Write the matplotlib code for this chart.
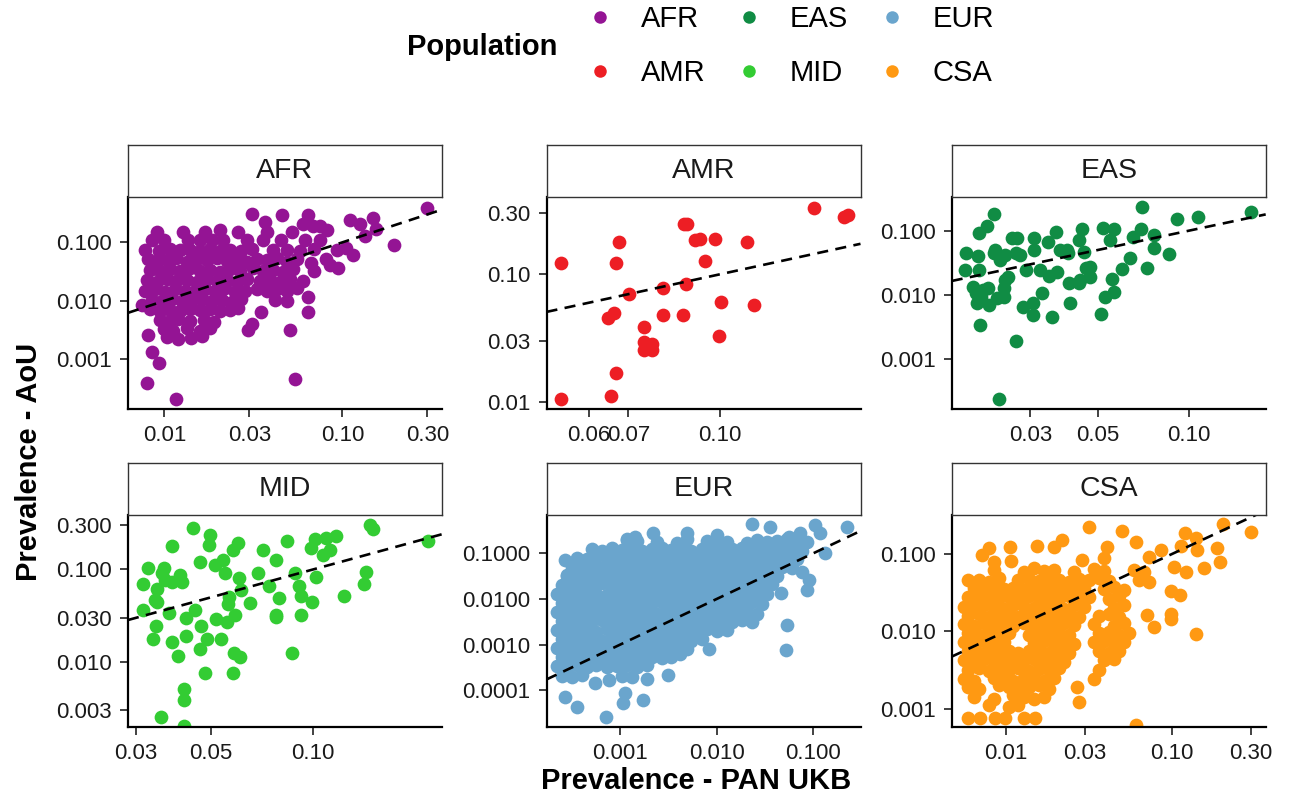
import numpy as np
import matplotlib
matplotlib.use("Agg")
import matplotlib.pyplot as plt
from matplotlib.lines import Line2D
from matplotlib.ticker import NullLocator

plt.rcParams['font.family'] = ['Liberation Sans', 'DejaVu Sans']

# prevalence in PAN UKB (x) vs AoU (y), one list of (x, y) per population
afr_points = [
    (0.298, 0.38), (0.194, 0.090), (0.149, 0.257), (0.110, 0.241), (0.125, 0.21), (0.134, 0.13),
    (0.155, 0.17), (0.115, 0.061), (0.095, 0.036), (0.085, 0.041), (0.105, 0.079), (0.064, 0.29),
    (0.060, 0.21), (0.068, 0.19), (0.075, 0.19), (0.082, 0.16), (0.046, 0.29), (0.031, 0.31),
    (0.037, 0.225), (0.054, 0.00047), (0.0117, 0.00021), (0.0080, 0.00040), (0.0093, 0.00086),
    (0.0085, 0.00135), (0.0081, 0.0026), (0.051, 0.0032), (0.0297, 0.0032), (0.031, 0.0041),
    (0.035, 0.0065), (0.064, 0.0118), (0.064, 0.0065),
    (0.0091, 0.15), (0.0128, 0.15), (0.017, 0.15), (0.0205, 0.16), (0.026, 0.15), (0.0375, 0.15), (0.052, 0.15),
    (0.0085, 0.11), (0.0099, 0.11), (0.0136, 0.11), (0.0159, 0.11), (0.0185, 0.11), (0.0214, 0.11),
    (0.029, 0.11), (0.036, 0.11), (0.045, 0.11), (0.062, 0.11), (0.075, 0.11),
    (0.0078, 0.074), (0.0093, 0.071), (0.0108, 0.077), (0.0122, 0.073), (0.0139, 0.075), (0.0159, 0.070),
    (0.0181, 0.076), (0.0205, 0.072), (0.0234, 0.074), (0.027, 0.071), (0.031, 0.077), (0.041, 0.073),
    (0.049, 0.075), (0.058, 0.070), (0.069, 0.076), (0.093, 0.074),
    (0.0081, 0.052), (0.0091, 0.048), (0.0103, 0.050), (0.0117, 0.053), (0.0134, 0.047), (0.0152, 0.051),
    (0.0173, 0.049), (0.0197, 0.054), (0.0224, 0.048), (0.0255, 0.050), (0.029, 0.046), (0.033, 0.052),
    (0.0375, 0.049), (0.0428, 0.055), (0.049, 0.047), (0.0554, 0.051), (0.067, 0.045), (0.081, 0.052),
    (0.0083, 0.034), (0.0095, 0.032), (0.0108, 0.035), (0.0122, 0.033), (0.0139, 0.036), (0.0159, 0.032),
    (0.0181, 0.034), (0.0205, 0.031), (0.0234, 0.035), (0.0266, 0.033), (0.0316, 0.036), (0.036, 0.032),
    (0.041, 0.034), (0.0466, 0.031), (0.053, 0.035), (0.069, 0.033),
    (0.0080, 0.023), (0.0091, 0.021), (0.0103, 0.024), (0.0117, 0.022), (0.0134, 0.023), (0.0152, 0.021),
    (0.0173, 0.024), (0.0197, 0.022), (0.0224, 0.023), (0.0255, 0.021), (0.029, 0.024), (0.0345, 0.022),
    (0.0392, 0.023), (0.0447, 0.021), (0.0508, 0.024), (0.060, 0.022),
    (0.0078, 0.015), (0.0089, 0.016), (0.0101, 0.014), (0.0115, 0.016), (0.0131, 0.015), (0.0149, 0.0145),
    (0.0169, 0.016), (0.0193, 0.015), (0.0219, 0.0165), (0.0249, 0.014), (0.0284, 0.015), (0.033, 0.016),
    (0.0375, 0.0145), (0.0428, 0.016), (0.049, 0.015), (0.0554, 0.0165),
    (0.0075, 0.0085), (0.0085, 0.0105), (0.0097, 0.0098), (0.011, 0.0108), (0.0125, 0.0101), (0.0142, 0.0096),
    (0.0162, 0.0107), (0.0185, 0.0099), (0.021, 0.0104), (0.024, 0.0097), (0.027, 0.0106), (0.042, 0.0102),
    (0.049, 0.0098),
    (0.0083, 0.0072), (0.0095, 0.0068), (0.0108, 0.0071), (0.0122, 0.0067), (0.0139, 0.0073), (0.0159, 0.0069),
    (0.0181, 0.0072), (0.0205, 0.0066), (0.0234, 0.0071), (0.026, 0.0075),
    (0.0095, 0.0048), (0.0108, 0.0045), (0.012, 0.0049), (0.0139, 0.0046), (0.0166, 0.0048), (0.0189, 0.0044),
    (0.0099, 0.0033), (0.0112, 0.0031), (0.0134, 0.0034), (0.0159, 0.0031), (0.0181, 0.0035),
    (0.0103, 0.0024), (0.012, 0.0022), (0.0142, 0.0023), (0.0162, 0.0025),
]

amr_points = [
    (0.0538, 0.122), (0.0538, 0.0105), (0.0653, 0.0111), (0.0666, 0.0170), (0.0675, 0.178),
    (0.0666, 0.122), (0.0645, 0.0452), (0.0662, 0.0495), (0.0702, 0.0702), (0.0744, 0.0389),
    (0.0744, 0.0297), (0.0769, 0.0255), (0.0769, 0.0284), (0.0744, 0.0255), (0.0802, 0.048),
    (0.0802, 0.0777), (0.0866, 0.048), (0.0876, 0.0835), (0.087, 0.246), (0.0881, 0.246),
    (0.0908, 0.186), (0.0928, 0.19), (0.0943, 0.127), (0.0984, 0.19), (0.0997, 0.0331),
    (0.1004, 0.0604), (0.1114, 0.180), (0.1146, 0.0575), (0.1446, 0.329), (0.1626, 0.283),
    (0.165, 0.29),
]

eas_points = [
    (0.0227, 0.182), (0.0216, 0.118), (0.0204, 0.093), (0.0184, 0.0444), (0.0183, 0.0245),
    (0.0202, 0.0404), (0.0204, 0.0245), (0.0205, 0.0034), (0.0237, 0.00024), (0.0270, 0.0019),
    (0.0194, 0.0135), (0.0199, 0.0106), (0.0200, 0.0074), (0.0218, 0.0127), (0.0220, 0.0070),
    (0.0233, 0.0089), (0.0245, 0.0127), (0.0248, 0.0171), (0.0254, 0.0193), (0.0227, 0.0444),
    (0.0230, 0.050), (0.0248, 0.0419), (0.0261, 0.076), (0.0271, 0.076), (0.0270, 0.0444),
    (0.0278, 0.0419), (0.0291, 0.0245), (0.0309, 0.076), (0.0309, 0.050), (0.0322, 0.0245),
    (0.0342, 0.0675), (0.0365, 0.0965), (0.0347, 0.0197), (0.0367, 0.0231), (0.0375, 0.050),
    (0.0396, 0.050), (0.0398, 0.0444), (0.0401, 0.0156), (0.0433, 0.0152), (0.0406, 0.0074),
    (0.0307, 0.0049), (0.0306, 0.0074), (0.0328, 0.0106), (0.0354, 0.0046), (0.0283, 0.0066),
    (0.0433, 0.0716), (0.0444, 0.105), (0.0450, 0.0471), (0.0459, 0.026), (0.0473, 0.0276),
    (0.0473, 0.0193), (0.0438, 0.0171), (0.0520, 0.109), (0.0551, 0.0716), (0.0568, 0.105),
    (0.0558, 0.0180), (0.0565, 0.0110), (0.0530, 0.0094), (0.0513, 0.0051), (0.0602, 0.0251),
    (0.0642, 0.0372), (0.0655, 0.0807), (0.0693, 0.105), (0.0701, 0.231), (0.0725, 0.026),
    (0.0766, 0.0857), (0.0766, 0.0531), (0.0861, 0.0435), (0.0915, 0.150), (0.1073, 0.161),
    (0.1607, 0.197), (0.0245, 0.0094), (0.0210, 0.0119), (0.0207, 0.0094), (0.0239, 0.035),
]

mid_points = [
    (0.0441, 0.278), (0.0496, 0.235), (0.0494, 0.183), (0.0382, 0.179), (0.0326, 0.1025),
    (0.0315, 0.0694), (0.0345, 0.0622), (0.0341, 0.0465), (0.0345, 0.0447), (0.0357, 0.092),
    (0.0363, 0.1025), (0.0365, 0.0767), (0.0382, 0.0735), (0.0404, 0.0868), (0.0409, 0.0735),
    (0.0314, 0.0363), (0.0376, 0.0334), (0.0343, 0.0243), (0.0336, 0.0179), (0.0382, 0.0165),
    (0.0400, 0.0115), (0.0421, 0.0190), (0.0421, 0.0302), (0.0448, 0.0363), (0.0463, 0.121),
    (0.0465, 0.0243), (0.0463, 0.0137), (0.0485, 0.0179), (0.0479, 0.0076), (0.0516, 0.0294),
    (0.0513, 0.111), (0.0540, 0.126), (0.0548, 0.092), (0.0565, 0.0506), (0.0561, 0.0428),
    (0.0557, 0.0271), (0.0587, 0.0320), (0.0581, 0.162), (0.0601, 0.191), (0.0605, 0.0799),
    (0.0614, 0.0597), (0.0583, 0.0125), (0.0608, 0.0113), (0.0581, 0.0076), (0.0533, 0.0179),
    (0.0650, 0.0436), (0.0688, 0.092), (0.0712, 0.162), (0.0742, 0.066), (0.0776, 0.128),
    (0.0794, 0.0497), (0.0779, 0.032), (0.0776, 0.0307), (0.0838, 0.204), (0.0883, 0.092),
    (0.0907, 0.066), (0.0918, 0.0514), (0.0918, 0.032), (0.0869, 0.0125), (0.0995, 0.0447),
    (0.0989, 0.169), (0.1011, 0.211), (0.1023, 0.0819), (0.1070, 0.143), (0.1095, 0.217),
    (0.1172, 0.229), (0.112, 0.162), (0.1234, 0.0514), (0.1411, 0.0694), (0.1437, 0.0944),
    (0.147, 0.302), (0.150, 0.271), (0.218, 0.204), (0.0415, 0.0051), (0.0415, 0.00385),
    (0.0355, 0.00254), (0.0415, 0.00201),
]

eur_points = [
    (0.00117, 0.20), (0.0015, 0.19), (0.0024, 0.18), (0.0039, 0.17), (0.0049, 0.21), (0.0079, 0.19),
    (0.0101, 0.17), (0.0128, 0.18), (0.0206, 0.17), (0.0262, 0.20), (0.0333, 0.18), (0.0423, 0.19),
    (0.0537, 0.21), (0.0682, 0.17), (0.0867, 0.18),
    (0.00051, 0.125), (0.00065, 0.115), (0.00082, 0.13), (0.00104, 0.12), (0.00132, 0.13),
    (0.00168, 0.115), (0.00213, 0.125), (0.0027, 0.13), (0.0034, 0.12), (0.0044, 0.13), (0.0055, 0.115),
    (0.0070, 0.125), (0.0090, 0.13), (0.0114, 0.12), (0.0144, 0.125), (0.0184, 0.13), (0.0233, 0.115),
    (0.0296, 0.125), (0.0376, 0.13), (0.0477, 0.12), (0.0606, 0.125), (0.077, 0.115),
    (0.000355, 0.08), (0.00045, 0.075), (0.00057, 0.083), (0.00073, 0.078), (0.00092, 0.08),
    (0.00117, 0.076), (0.0015, 0.082), (0.0019, 0.079), (0.0024, 0.077), (0.0030, 0.083), (0.0039, 0.078),
    (0.0049, 0.08), (0.0062, 0.076), (0.0079, 0.082), (0.0101, 0.079), (0.0128, 0.077), (0.0163, 0.083),
    (0.0206, 0.078), (0.0262, 0.08), (0.0333, 0.076), (0.0423, 0.082), (0.0537, 0.079), (0.0682, 0.075),
    (0.00032, 0.05), (0.00040, 0.048), (0.00051, 0.052), (0.00065, 0.049), (0.00082, 0.051),
    (0.00104, 0.047), (0.00132, 0.05), (0.00168, 0.053), (0.00213, 0.049), (0.0027, 0.05), (0.0034, 0.048),
    (0.0044, 0.052), (0.0055, 0.05), (0.0070, 0.047), (0.0090, 0.051), (0.0114, 0.05), (0.0144, 0.053),
    (0.0184, 0.048), (0.0233, 0.05), (0.0296, 0.052), (0.0376, 0.049), (0.0477, 0.05), (0.0606, 0.047),
    (0.00028, 0.032), (0.000355, 0.030), (0.00045, 0.033), (0.00057, 0.031), (0.00073, 0.034),
    (0.00092, 0.032), (0.00117, 0.030), (0.0015, 0.033), (0.0019, 0.032), (0.0024, 0.031), (0.0030, 0.034),
    (0.0039, 0.032), (0.0049, 0.030), (0.0062, 0.033), (0.0079, 0.031), (0.0101, 0.032), (0.0128, 0.034),
    (0.0163, 0.030), (0.0206, 0.032), (0.0262, 0.033), (0.0333, 0.031), (0.0423, 0.032),
    (0.00025, 0.020), (0.00032, 0.021), (0.00040, 0.019), (0.00051, 0.020), (0.00065, 0.022),
    (0.00082, 0.019), (0.00104, 0.020), (0.00132, 0.021), (0.00168, 0.019), (0.00213, 0.020),
    (0.0027, 0.022), (0.0034, 0.020), (0.0044, 0.019), (0.0055, 0.021), (0.0070, 0.020), (0.0090, 0.019),
    (0.0114, 0.021), (0.0144, 0.020), (0.0184, 0.022), (0.0233, 0.019), (0.0296, 0.020), (0.0376, 0.021),
    (0.00022, 0.013), (0.00028, 0.012), (0.000355, 0.0135), (0.00045, 0.0125), (0.00057, 0.013),
    (0.00073, 0.0122), (0.00092, 0.0133), (0.00117, 0.0127), (0.0015, 0.013), (0.0019, 0.0124),
    (0.0024, 0.0134), (0.0030, 0.0128), (0.0039, 0.0122), (0.0049, 0.013), (0.0062, 0.0135),
    (0.0079, 0.0126), (0.0101, 0.013), (0.0128, 0.0122), (0.0163, 0.0132), (0.0206, 0.0128),
    (0.0262, 0.0124), (0.0333, 0.013),
    (0.00025, 0.0081), (0.00032, 0.0077), (0.00040, 0.0085), (0.00051, 0.0080), (0.00065, 0.0078),
    (0.00082, 0.0084), (0.00104, 0.0081), (0.00132, 0.0077), (0.00168, 0.0083), (0.00213, 0.0080),
    (0.0027, 0.0086), (0.0034, 0.0079), (0.0044, 0.0081), (0.0055, 0.0076), (0.0070, 0.0084),
    (0.0090, 0.0080), (0.0114, 0.0082), (0.0144, 0.0078), (0.0184, 0.0081), (0.0233, 0.0085),
    (0.0296, 0.0079),
    (0.00022, 0.0052), (0.00028, 0.0049), (0.000355, 0.0054), (0.00045, 0.0051), (0.00057, 0.0053),
    (0.00073, 0.0049), (0.00092, 0.0052), (0.00117, 0.0055), (0.0015, 0.0050), (0.0019, 0.0052),
    (0.0024, 0.0048), (0.0030, 0.0053), (0.0039, 0.0051), (0.0049, 0.0054), (0.0062, 0.0050),
    (0.0079, 0.0052), (0.0101, 0.0049), (0.0128, 0.0053), (0.0163, 0.0051), (0.0206, 0.0052),
    (0.0262, 0.0048),
    (0.00025, 0.0033), (0.00032, 0.0035), (0.00040, 0.0031), (0.00051, 0.0033), (0.00065, 0.0034),
    (0.00082, 0.0032), (0.00104, 0.0033), (0.00132, 0.0031), (0.00168, 0.0035), (0.00213, 0.0033),
    (0.0027, 0.0032), (0.0034, 0.0034), (0.0044, 0.0031), (0.0055, 0.0033), (0.0070, 0.0035),
    (0.0090, 0.0032), (0.0114, 0.0033), (0.0144, 0.0031), (0.0184, 0.0034), (0.0233, 0.0032),
    (0.00022, 0.0021), (0.00028, 0.0020), (0.000355, 0.0022), (0.00045, 0.0021), (0.00057, 0.0019),
    (0.00073, 0.0022), (0.00092, 0.0021), (0.00117, 0.0020), (0.0015, 0.0022), (0.0019, 0.0021),
    (0.0024, 0.0019), (0.0030, 0.0021), (0.0039, 0.0022), (0.0049, 0.0020), (0.0062, 0.0021),
    (0.0079, 0.0022), (0.0101, 0.0020), (0.0128, 0.0021),
    (0.00025, 0.0013), (0.00032, 0.00125), (0.00040, 0.0014), (0.00051, 0.0013), (0.00065, 0.0012),
    (0.00082, 0.0014), (0.00104, 0.0013), (0.00132, 0.00125), (0.00168, 0.0014), (0.00213, 0.0013),
    (0.0027, 0.0012), (0.0034, 0.0013), (0.0044, 0.0014), (0.0055, 0.0012), (0.0070, 0.0013),
    (0.00022, 0.00084), (0.00028, 0.0008), (0.000355, 0.00088), (0.00045, 0.00083), (0.00057, 0.0008),
    (0.00073, 0.00086), (0.00092, 0.00082), (0.00117, 0.00085), (0.0015, 0.0008), (0.0019, 0.00084),
    (0.0024, 0.00088), (0.0030, 0.00081), (0.0039, 0.00084), (0.0049, 0.0008),
    (0.00025, 0.00053), (0.00032, 0.0005), (0.00040, 0.00056), (0.00051, 0.00052), (0.00065, 0.00055),
    (0.00082, 0.0005), (0.00104, 0.00053), (0.00132, 0.00056), (0.00168, 0.00051), (0.00213, 0.00054),
    (0.0027, 0.0005), (0.0034, 0.00053),
    (0.00022, 0.00034), (0.00028, 0.00032), (0.000355, 0.00036), (0.00045, 0.00033), (0.00057, 0.00035),
    (0.00073, 0.00032), (0.00092, 0.00034), (0.00117, 0.00036), (0.0015, 0.00033), (0.0019, 0.00035),
    (0.00025, 0.00021), (0.00032, 0.0002), (0.00040, 0.00022), (0.00104, 0.00021), (0.00132, 0.0002),
    (0.000268, 0.0000714), (0.000355, 0.0000432), (0.000716, 0.000026), (0.00113, 0.0000875),
    (0.00107, 0.000052), (0.00172, 0.0000604), (0.00055, 0.000145), (0.00076, 0.000166),
    (0.00189, 0.000181), (0.00317, 0.000214), (0.0042, 0.00064), (0.0083, 0.00082), (0.0537, 0.00267),
    (0.0518, 0.00076), (0.0867, 0.0157), (0.090, 0.026), (0.077, 0.0397), (0.134, 0.1), (0.225, 0.385),
    (0.105, 0.42), (0.119, 0.275), (0.036, 0.385), (0.0233, 0.44), (0.0049, 0.275), (0.00221, 0.275),
    (0.00117, 0.21), (0.00143, 0.23), (0.0101, 0.25), (0.00027, 0.071), (0.00028, 0.0336),
    (0.074, 0.275), (0.056, 0.23), (0.047, 0.0135),
]

csa_points = [
    (0.00842, 0.062), (0.0128, 0.058), (0.0147, 0.066), (0.0169, 0.060), (0.0194, 0.063), (0.0257, 0.059),
    (0.0339, 0.064), (0.0390, 0.060), (0.0592, 0.062), (0.0680, 0.058),
    (0.00684, 0.047), (0.00786, 0.044), (0.00903, 0.049), (0.0119, 0.046), (0.0137, 0.048), (0.0158, 0.045),
    (0.0181, 0.049), (0.0208, 0.047), (0.0239, 0.044), (0.0275, 0.048), (0.0316, 0.046), (0.0364, 0.049),
    (0.0418, 0.045), (0.0634, 0.047), (0.0729, 0.044),
    (0.00638, 0.036), (0.00733, 0.034), (0.00842, 0.038), (0.00968, 0.035), (0.0111, 0.037), (0.0128, 0.034),
    (0.0147, 0.036), (0.0169, 0.038), (0.0194, 0.035), (0.0223, 0.036), (0.0257, 0.034), (0.0295, 0.037),
    (0.0390, 0.035), (0.0448, 0.038), (0.0515, 0.034),
    (0.00594, 0.028), (0.00684, 0.026), (0.00786, 0.029), (0.00903, 0.027), (0.0104, 0.028), (0.0119, 0.026),
    (0.0137, 0.029), (0.0158, 0.027), (0.0181, 0.028), (0.0208, 0.026), (0.0239, 0.029), (0.0275, 0.027),
    (0.0316, 0.028), (0.0418, 0.026), (0.0480, 0.029),
    (0.00555, 0.021), (0.00638, 0.020), (0.00733, 0.022), (0.00842, 0.021), (0.00968, 0.0195), (0.0111, 0.022),
    (0.0128, 0.021), (0.0147, 0.020), (0.0169, 0.022), (0.0194, 0.021), (0.0223, 0.0195), (0.0257, 0.022),
    (0.0295, 0.021), (0.0448, 0.020), (0.0515, 0.022),
    (0.00594, 0.016), (0.00684, 0.017), (0.00786, 0.0155), (0.00903, 0.016), (0.0104, 0.017), (0.0119, 0.0155),
    (0.0137, 0.016), (0.0158, 0.017), (0.0181, 0.0155), (0.0208, 0.016), (0.0239, 0.017), (0.0275, 0.0155),
    (0.0364, 0.016), (0.0418, 0.017), (0.0480, 0.0155),
    (0.00555, 0.0123), (0.00638, 0.0117), (0.00733, 0.013), (0.00842, 0.012), (0.00968, 0.0125),
    (0.0111, 0.0118), (0.0128, 0.013), (0.0147, 0.0122), (0.0169, 0.0126), (0.0194, 0.0118), (0.0223, 0.013),
    (0.0257, 0.0122), (0.0339, 0.0125), (0.0448, 0.0119), (0.0515, 0.0128),
    (0.00594, 0.0094), (0.00684, 0.0089), (0.00786, 0.0098), (0.00903, 0.0092), (0.0104, 0.0096),
    (0.0137, 0.0091), (0.0158, 0.0097), (0.0181, 0.0093), (0.0208, 0.0095), (0.0239, 0.009), (0.0364, 0.0094),
    (0.0418, 0.0098), (0.0480, 0.0091), (0.0552, 0.0095),
    (0.00555, 0.0072), (0.00638, 0.0069), (0.00733, 0.0075), (0.00842, 0.0071), (0.00968, 0.0073),
    (0.0147, 0.007), (0.0169, 0.0074), (0.0194, 0.0071), (0.0223, 0.0073), (0.0257, 0.0069), (0.0339, 0.0072),
    (0.0390, 0.0075), (0.0448, 0.007), (0.0515, 0.0073),
    (0.00594, 0.0055), (0.00684, 0.0052), (0.00786, 0.0057), (0.00903, 0.0054), (0.0104, 0.0056),
    (0.0119, 0.0053), (0.0137, 0.0055), (0.0158, 0.0057), (0.0181, 0.0053), (0.0208, 0.0055), (0.0239, 0.0052),
    (0.0364, 0.0055), (0.0418, 0.0053), (0.0480, 0.0056),
    (0.00555, 0.0042), (0.00638, 0.0040), (0.00733, 0.0044), (0.00842, 0.0041), (0.00968, 0.0043),
    (0.0111, 0.004), (0.0128, 0.0042), (0.0147, 0.0044), (0.0169, 0.0041), (0.0194, 0.0043), (0.0223, 0.004),
    (0.0390, 0.0042), (0.0448, 0.0044),
    (0.00594, 0.0032), (0.00684, 0.0034), (0.00786, 0.0031), (0.00903, 0.0033), (0.0104, 0.0032),
    (0.0119, 0.0034), (0.0137, 0.0031), (0.0158, 0.0033), (0.0181, 0.0032), (0.0208, 0.0034), (0.0364, 0.0032),
    (0.00555, 0.0024), (0.00638, 0.0023), (0.00842, 0.0025), (0.00968, 0.0024), (0.0111, 0.0023),
    (0.0128, 0.0025), (0.0147, 0.0024), (0.0169, 0.0023), (0.0194, 0.0025), (0.0339, 0.0024),
    (0.00594, 0.0019), (0.00684, 0.0018), (0.00903, 0.0020), (0.0104, 0.0019), (0.0119, 0.0018),
    (0.0137, 0.0019), (0.0158, 0.0020), (0.0181, 0.0018),
    (0.00638, 0.0014), (0.00842, 0.00135), (0.0111, 0.0015), (0.0128, 0.0014), (0.0147, 0.00135), (0.0169, 0.0014),
    (0.00786, 0.0011), (0.0104, 0.00105), (0.0119, 0.0011),
    (0.00594, 0.00076), (0.0070, 0.00076), (0.0086, 0.00076), (0.0099, 0.00076), (0.0128, 0.00076), (0.01504, 0.00076),
    (0.301, 0.195), (0.2054, 0.246), (0.189, 0.1186), (0.196, 0.0795), (0.157, 0.0671), (0.1216, 0.0589),
    (0.1033, 0.0684), (0.1133, 0.127), (0.1204, 0.186), (0.143, 0.1127), (0.1397, 0.163), (0.0858, 0.115),
    (0.0729, 0.0923), (0.0606, 0.1447), (0.0503, 0.1995), (0.0319, 0.222), (0.0408, 0.1246), (0.0393, 0.0905),
    (0.0288, 0.0836), (0.0986, 0.0334), (0.1122, 0.0292), (0.0986, 0.0169), (0.0995, 0.0146), (0.0713, 0.0161),
    (0.0782, 0.01156), (0.1397, 0.00928), (0.0154, 0.127), (0.01062, 0.1246), (0.00786, 0.122), (0.00716, 0.097),
    (0.00842, 0.0795), (0.0107, 0.081), (0.00594, 0.0459), (0.0218, 0.152), (0.0194, 0.1246), (0.0269, 0.00188),
    (0.0275, 0.0012), (0.0606, 0.000613),
]

populations = ["AFR", "AMR", "EAS", "MID", "EUR", "CSA"]
pop_colors = {"AFR": "#941494", "AMR": "#ED1E24", "EAS": "#108C44",
              "EUR": "#6AA5CD", "MID": "#33CC33", "CSA": "#FF9912"}
pop_points = {"AFR": afr_points, "AMR": amr_points, "EAS": eas_points,
              "MID": mid_points, "EUR": eur_points, "CSA": csa_points}

# free log scales per facet
x_limits = {"AFR": (0.00625, 0.363), "AMR": (0.0508, 0.1736), "EAS": (0.01652, 0.1792),
            "MID": (0.0284, 0.2402), "EUR": (0.000173, 0.310), "CSA": (0.00471, 0.370)}
y_limits = {"AFR": (0.000142, 0.596), "AMR": (0.00881, 0.404), "EAS": (0.000169, 0.334),
            "MID": (0.00198, 0.3877), "EUR": (1.57e-5, 0.694), "CSA": (0.000577, 0.322)}
x_ticks = {"AFR": ([0.01, 0.03, 0.1, 0.3], ["0.01", "0.03", "0.10", "0.30"]),
           "AMR": ([0.06, 0.07, 0.1], ["0.06", "0.07", "0.10"]),
           "EAS": ([0.03, 0.05, 0.1], ["0.03", "0.05", "0.10"]),
           "MID": ([0.03, 0.05, 0.1], ["0.03", "0.05", "0.10"]),
           "EUR": ([0.001, 0.01, 0.1], ["0.001", "0.010", "0.100"]),
           "CSA": ([0.01, 0.03, 0.1, 0.3], ["0.01", "0.03", "0.10", "0.30"])}
y_ticks = {"AFR": ([0.001, 0.01, 0.1], ["0.001", "0.010", "0.100"]),
           "AMR": ([0.01, 0.03, 0.1, 0.3], ["0.01", "0.03", "0.10", "0.30"]),
           "EAS": ([0.001, 0.01, 0.1], ["0.001", "0.010", "0.100"]),
           "MID": ([0.003, 0.01, 0.03, 0.1, 0.3], ["0.003", "0.010", "0.030", "0.100", "0.300"]),
           "EUR": ([0.0001, 0.001, 0.01, 0.1], ["0.0001", "0.0010", "0.0100", "0.1000"]),
           "CSA": ([0.001, 0.01, 0.1], ["0.001", "0.010", "0.100"])}

W, H = 1299, 798
fig = plt.figure(figsize=(W / 100, H / 100), dpi=100)

col_left = [128, 546.5, 951.7]
row_bottom = [409, 727]
panel_w, panel_h, strip_h = 314, 212, 52

for i, pop in enumerate(populations):
    r, c = divmod(i, 3)
    ax = fig.add_axes([col_left[c] / W, 1 - row_bottom[r] / H, panel_w / W, panel_h / H])
    ax.set_xscale("log")
    ax.set_yscale("log")

    pts = np.array(pop_points[pop])
    ax.scatter(pts[:, 0], pts[:, 1], s=98, color=pop_colors[pop], linewidths=0, zorder=2)

    x0, x1 = x_limits[pop]
    ax.set_xlim(x0, x1)
    ax.set_ylim(*y_limits[pop])
    # y = x reference line
    ax.plot([x0, x1], [x0, x1], color="black", lw=1.9, ls=(0, (4.2, 2.8)), zorder=3)

    ax.set_xticks(x_ticks[pop][0], x_ticks[pop][1])
    ax.set_yticks(y_ticks[pop][0], y_ticks[pop][1])
    ax.xaxis.set_minor_locator(NullLocator())
    ax.yaxis.set_minor_locator(NullLocator())
    ax.tick_params(direction="out", length=5.5, width=1.3, color="#333333",
                   labelsize=16, labelcolor="#1a1a1a", pad=6)
    for side in ("top", "right"):
        ax.spines[side].set_visible(False)
    for side in ("left", "bottom"):
        ax.spines[side].set_linewidth(1.6)
        ax.spines[side].set_color("black")

    strip = ax.inset_axes([0, 1, 1, strip_h / panel_h])
    strip.set_xticks([])
    strip.set_yticks([])
    strip.set_facecolor("white")
    for sp in strip.spines.values():
        sp.set_linewidth(1.0)
        sp.set_color("#333333")
    strip.text(0.5, 0.5, pop, ha="center", va="center", fontsize=20.5, color="#1a1a1a",
               transform=strip.transAxes)

fig.text(696.5 / W, 1 - 781 / H, "Prevalence - PAN UKB", ha="center", va="center",
         fontsize=21, fontweight="bold")
fig.text(29 / W, 1 - 462 / H, "Prevalence - AoU", ha="center", va="center",
         rotation=90, fontsize=21, fontweight="bold")

# legend: three columns, filled column by column
legend_order = ["AFR", "AMR", "EAS", "MID", "EUR", "CSA"]
handles = [Line2D([], [], marker="o", ls="", markersize=9, markeredgewidth=0,
                  color=pop_colors[p]) for p in legend_order]
fig.legend(handles, legend_order, ncol=3, loc="center left",
           bbox_to_anchor=(585.4 / W, 1 - 46 / H), frameon=False, fontsize=21,
           handlelength=1.0, handletextpad=0.9, columnspacing=1.0, labelspacing=0.9,
           borderpad=0, borderaxespad=0)
fig.text(482 / W, 1 - 47 / H, "Population", ha="center", va="center",
         fontsize=21, fontweight="bold")

fig.savefig("out.png", dpi=100)
